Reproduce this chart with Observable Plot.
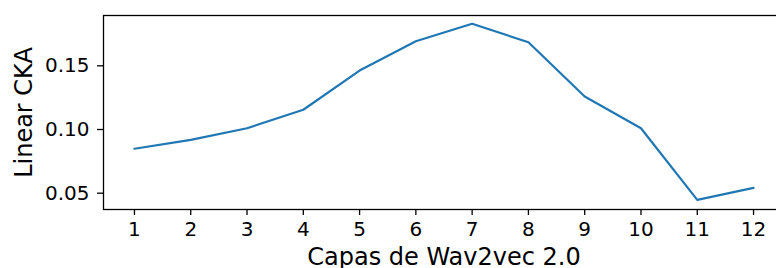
<!DOCTYPE html>
<html>
<head>
<meta charset="utf-8">
<script src="https://cdn.jsdelivr.net/npm/d3@7"></script>
<script src="https://cdn.jsdelivr.net/npm/@observablehq/plot@0.6"></script>
<style>
  html, body { margin: 0; padding: 0; background: #fff; }
</style>
</head>
<body>
<div id="chart"></div>
<script>
const layers = [1, 2, 3, 4, 5, 6, 7, 8, 9, 10, 11, 12];
const cka = [0.0849, 0.0919, 0.1010, 0.1155, 0.1463, 0.1693, 0.1830, 0.1685, 0.1259, 0.1010, 0.0448, 0.0542];
const yTicks = [0.05, 0.10, 0.15];
const xLabel = "Capas de Wav2vec 2.0";
const yLabel = "Linear CKA";

const data = layers.map((l, i) => ({layer: l, value: cka[i]}));

const chart = Plot.plot({
  width: 776,
  height: 268,
  marginLeft: 103,
  marginRight: -8,
  marginTop: 15,
  marginBottom: 59,
  style: {fontFamily: "'DejaVu Sans', sans-serif", background: "#fff", color: "#000", overflow: "hidden"},
  x: {domain: [0.45, 12.55]},
  y: {domain: [0.0372, 0.1895]},
  marks: [
    Plot.line(data, {x: "layer", y: "value", stroke: "#1f77b4", strokeWidth: 2.2}),
    Plot.frame({stroke: "#000", strokeWidth: 1.3}),
    Plot.axisX({ticks: layers, tickSize: 6, tickPadding: 6, fontSize: 20, label: null, strokeWidth: 1.3, tickFormat: d => String(d)}),
    Plot.axisY({ticks: yTicks, tickSize: 6, tickPadding: 8, fontSize: 20, label: null, strokeWidth: 1.3, tickFormat: d3.format(".2f")}),
    Plot.text([xLabel], {frameAnchor: "bottom", text: d => d, textAnchor: "middle", lineAnchor: "bottom", dy: 55.5, fontSize: 24, fill: "#000"}),
    Plot.text([yLabel], {frameAnchor: "left", text: d => d, textAnchor: "middle", lineAnchor: "bottom", rotate: -90, dx: -71.5, fontSize: 24, fill: "#000"})
  ]
});
document.getElementById("chart").appendChild(chart);
</script>
</body>
</html>
